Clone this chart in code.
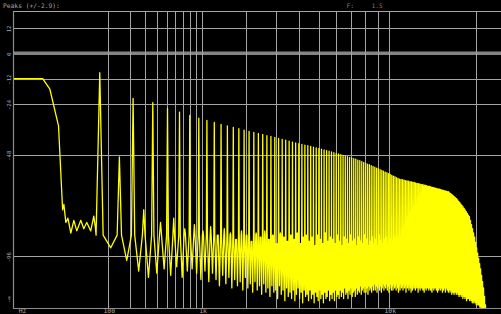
<!DOCTYPE html>
<html>
<head>
<meta charset="utf-8">
<script src="https://cdn.jsdelivr.net/npm/d3@7"></script>
<style>
  html, body { margin: 0; padding: 0; background: #000; }
  svg { display: block; }
</style>
</head>
<body>
<svg id="spectrum"></svg>
<script>
// header texts
const headerLabel = 'Peaks (+/-2.9):';
const filterLabel = 'F:';
const filterValue = '1.5';

// level axis (dB)
const dbGrid = [12, -12, -24, -48, -96];
const dbTickValues = [12, 0, -12, -24, -48, -96, -116];
const dbTickLabels = ['12', '0', '-12', '-24', '-48', '-96', '-\u221e'];

// frequency axis (Hz)
const hzGrid = [100, 200, 300, 400, 500, 600, 700, 800, 900, 1000,
  2000, 3000, 4000, 5000, 6000, 7000, 8000, 9000, 10000, 20000];
const hzTickValues = [100, 1000, 10000];
const hzTickLabels = ['100', '1k', '10k'];
const hzUnitLabel = 'Hz';

// spectrum below the first harmonic
const lowEndHz = [0, 1.9, 4, 8.2, 11, 12, 13.6, 15.5, 18.5, 22, 25.8, 31.7, 36.7, 42.2, 50.4, 57.3, 61];
const lowEndDb = [-12, -12, -17, -34.3, -74, -71.5, -80, -78, -85, -79, -84, -79, -83, -80, -84, -77, -82];

// level where a harmonic's main lobe meets the noise floor
const lobeFloorDb = -86;

// harmonics, n = 1..296
const harmonicHz = [
  73, 145, 218, 290, 363, 435, 508, 580, 653, 725,
  798, 870, 943, 1015, 1088, 1160, 1233, 1305, 1378, 1450,
  1523, 1595, 1668, 1740, 1813, 1885, 1958, 2030, 2103, 2175,
  2248, 2320, 2393, 2465, 2538, 2610, 2683, 2755, 2828, 2900,
  2973, 3045, 3118, 3190, 3263, 3335, 3408, 3480, 3553, 3625,
  3698, 3770, 3843, 3915, 3988, 4060, 4133, 4205, 4278, 4350,
  4423, 4495, 4568, 4640, 4713, 4785, 4858, 4930, 5003, 5075,
  5148, 5220, 5293, 5365, 5438, 5510, 5583, 5655, 5728, 5800,
  5873, 5945, 6018, 6090, 6163, 6235, 6308, 6380, 6453, 6525,
  6598, 6670, 6743, 6815, 6888, 6960, 7033, 7105, 7178, 7250,
  7323, 7395, 7468, 7540, 7613, 7685, 7758, 7830, 7903, 7975,
  8048, 8120, 8193, 8265, 8338, 8410, 8483, 8555, 8628, 8700,
  8773, 8845, 8918, 8990, 9063, 9135, 9208, 9280, 9353, 9425,
  9498, 9570, 9643, 9715, 9788, 9860, 9933, 10005, 10078, 10150,
  10223, 10295, 10368, 10440, 10513, 10585, 10658, 10730, 10803, 10875,
  10948, 11020, 11093, 11165, 11238, 11310, 11383, 11455, 11528, 11600,
  11673, 11745, 11818, 11890, 11963, 12035, 12108, 12180, 12253, 12325,
  12398, 12470, 12543, 12615, 12688, 12760, 12833, 12905, 12978, 13050,
  13123, 13195, 13268, 13340, 13413, 13485, 13558, 13630, 13703, 13775,
  13848, 13920, 13993, 14065, 14138, 14210, 14283, 14355, 14428, 14500,
  14573, 14645, 14718, 14790, 14863, 14935, 15008, 15080, 15153, 15225,
  15298, 15370, 15443, 15515, 15588, 15660, 15733, 15805, 15878, 15950,
  16023, 16095, 16168, 16240, 16313, 16385, 16458, 16530, 16603, 16675,
  16748, 16820, 16893, 16965, 17038, 17110, 17183, 17255, 17328, 17400,
  17473, 17545, 17618, 17690, 17763, 17835, 17908, 17980, 18053, 18125,
  18198, 18270, 18343, 18415, 18488, 18560, 18633, 18705, 18778, 18850,
  18923, 18995, 19068, 19140, 19213, 19285, 19358, 19430, 19503, 19575,
  19648, 19720, 19793, 19865, 19938, 20010, 20083, 20155, 20228, 20300,
  20373, 20445, 20518, 20590, 20663, 20735, 20808, 20880, 20953, 21025,
  21098, 21170, 21243, 21315, 21388, 21460
];

// peak level of the odd harmonics (1, 3, 5 ... 295)
const oddPeakDb = [
  -9.2, -21.3, -23.4, -26.0, -27.9, -29.4, -30.7, -31.8, -32.7, -33.6,
  -34.3, -35.0, -35.7, -36.3, -36.9, -37.4, -37.9, -38.4, -38.9, -39.3,
  -39.8, -40.2, -40.7, -41.1, -41.6, -42.0, -42.4, -42.7, -43.1, -43.4,
  -43.7, -44.0, -44.4, -44.7, -45.0, -45.3, -45.7, -46.0, -46.3, -46.6,
  -47.0, -47.3, -47.6, -47.9, -48.3, -48.6, -48.9, -49.2, -49.5, -49.8,
  -50.1, -50.5, -50.8, -51.2, -51.6, -52.0, -52.4, -52.7, -53.1, -53.5,
  -53.9, -54.3, -54.6, -55.0, -55.4, -55.8, -56.2, -56.5, -56.9, -57.3,
  -57.7, -58.1, -58.4, -58.8, -59.2, -59.5, -59.7, -59.8, -60.0, -60.2,
  -60.3, -60.5, -60.7, -60.8, -61.0, -61.1, -61.3, -61.5, -61.6, -61.8,
  -62.0, -62.1, -62.3, -62.4, -62.6, -62.8, -62.9, -63.1, -63.3, -63.4,
  -63.6, -63.8, -63.9, -64.1, -64.2, -64.4, -64.6, -64.7, -64.9, -65.1,
  -65.2, -65.4, -65.5, -66.0, -66.4, -66.9, -67.3, -67.8, -68.3, -68.8,
  -69.4, -70.0, -70.6, -71.3, -72.0, -72.7, -73.4, -74.1, -74.9, -75.7,
  -76.5, -77.3, -79, -81, -83, -85, -87, -89.5, -92, -94.5,
  -97, -99.5, -102, -105, -108, -111, -115, -119
];

// peak level of the even harmonics (2, 4, 6 ... 296)
const evenPeakDb = [
  -49, -74, -80, -78, -83, -81, -84, -82, -86, -83,
  -85, -88, -84, -86, -89, -85, -87, -84, -88, -86,
  -90, -85, -87, -89, -86, -88, -85, -90, -87, -86,
  -89, -87, -91, -86, -88, -90, -85, -89, -87, -88,
  -90, -86, -89, -91, -87, -88, -90, -86, -89, -88,
  -91, -87, -89, -90, -86, -88, -91, -89, -87, -90,
  -88, -91, -86, -89, -90, -88, -87, -91, -89, -88,
  -90, -87, -89, -91, -88, -90, -86, -89, -88, -91,
  -89, -87, -90, -88, -91, -89, -87, -90, -88, -89,
  -91, -88, -90, -87, -89, -91, -88, -90, -89, -87,
  -90, -88, -91, -89, -88, -90, -87, -89, -91, -88,
  -90, -89, -88, -91, -89, -90, -88, -90, -91, -89,
  -90, -91, -89, -92, -90, -91, -93, -92, -94, -93,
  -95, -96, -98, -100, -102, -104, -106, -108, -110, -112,
  -114, -116, -118, -120, -121, -122, -122, -122
];

// floor level in the gap after each harmonic
const troughDb = [
  -92, -98, -103, -106, -104, -102, -105, -101, -106, -103,
  -102, -104, -107, -103, -108, -104, -107, -110, -105, -109,
  -106, -111, -107, -110, -108, -112, -106, -111, -109, -113,
  -108, -112, -110, -114, -109, -113, -111, -115, -110, -113,
  -112, -116, -110, -114, -112, -117, -111, -115, -113, -116,
  -112, -117, -114, -111, -116, -113, -118, -112, -115, -114,
  -117, -112, -116, -114, -118, -113, -115, -117, -112, -116,
  -114, -118, -113, -116, -115, -112, -117, -114, -116, -113,
  -117, -112, -115, -114, -116, -112, -115, -113, -116, -111,
  -114, -113, -116, -112, -114, -111, -115, -113, -112, -115,
  -111, -114, -112, -113, -110, -114, -112, -111, -113, -110,
  -113, -111, -114, -110, -112, -111, -113, -110, -112, -109,
  -112, -110, -113, -111, -109, -112, -110, -113, -111, -109,
  -112, -110, -111, -109, -112, -110, -113, -111, -109, -112,
  -110, -112, -109, -111, -110, -112, -109, -111, -113, -110,
  -112, -109, -111, -110, -112, -109, -111, -110, -113, -109,
  -111, -110, -112, -109, -111, -113, -110, -112, -109, -111,
  -110, -112, -109, -111, -110, -113, -111, -109, -112, -110,
  -111, -109, -112, -110, -113, -111, -110, -112, -109, -111,
  -110, -112, -111, -109, -112, -110, -113, -111, -110, -112,
  -109, -111, -110, -112, -111, -113, -110, -112, -111, -109,
  -112, -110, -111, -113, -110, -112, -111, -110, -113, -111,
  -110, -112, -111, -113, -112, -110, -113, -111, -112, -114,
  -111, -113, -112, -114, -111, -113, -112, -114, -113, -112,
  -114, -112, -115, -113, -114, -112, -115, -113, -114, -116,
  -113, -115, -114, -116, -114, -115, -117, -115, -116, -114,
  -116, -115, -117, -116, -115, -117, -116, -118, -116, -117,
  -118, -117, -116, -118, -117, -119, -118, -117, -119, -118,
  -119, -118, -120, -119, -120, -121, -120, -121, -122, -121,
  -122, -122, -123, -122, -123, -123
];
const tailHz = 24000;
const tailDb = -125;

createSpectrumChart('spectrum', {
  width: 501,
  height: 314,
  frame: { left: 13, top: 11.5, bottom: 308, right: 501 },
  lobeHz: 10,
  gridColor: '#a4a4a4',
  zeroColor: '#848484',
  axisColor: '#8c8c8c',
  textColor: '#a6a6a6',
  filterColor: '#87821f',
  lineColor: '#ffff00'
});

function createSpectrumChart(id, config) {
  setSvgSize(config, id);
  setScalesToConfig(config);
  setSpectrumPointsToConfig(config);
  drawGrid(config);
  drawSpectrum(config);
  drawFrame(config);
  drawLevelLabels(config);
  drawFrequencyLabels(config);
  drawHeader(config);
}

function setSvgSize(config, id) {
  config.svg = d3
    .select(`#${id}`)
    .attr('width', config.width)
    .attr('height', config.height)
    .style('background', '#000');
}

function setScalesToConfig(config) {
  config.x = d3
    .scalePow()
    .exponent(0.3)
    .domain([0, 24000])
    .range([14, 502]);
  config.y = d3
    .scaleLinear()
    .domain([20, -120])
    .range([11, 307]);
}

// each harmonic: narrow main lobe, then a dip half way to the next one
function setSpectrumPointsToConfig(config) {
  const points = lowEndHz.map((hz, i) => [hz, lowEndDb[i]]);
  harmonicHz.forEach((hz, i) => {
    const peak = i % 2 === 0 ? oddPeakDb[i / 2] : evenPeakDb[(i - 1) / 2];
    const shoulder = Math.min(lobeFloorDb, peak);
    const next = i + 1 < harmonicHz.length ? harmonicHz[i + 1] : tailHz;
    points.push([hz - config.lobeHz, shoulder]);
    points.push([hz, peak]);
    points.push([hz + config.lobeHz, shoulder]);
    points.push([(hz + next) / 2, troughDb[i]]);
  });
  points.push([tailHz, tailDb]);
  config.points = points;
}

function drawGrid(config) {
  const f = config.frame;
  const grid = config.svg.append('g').attr('class', 'grid');

  grid
    .selectAll('.hline')
    .data(dbGrid)
    .enter()
    .append('line')
    .attr('x1', f.left)
    .attr('x2', f.right)
    .attr('y1', d => Math.round(config.y(d)) + 0.5)
    .attr('y2', d => Math.round(config.y(d)) + 0.5)
    .style('stroke', config.gridColor)
    .style('stroke-width', 1);

  grid
    .append('line')
    .attr('x1', f.left)
    .attr('x2', f.right)
    .attr('y1', config.y(0))
    .attr('y2', config.y(0))
    .style('stroke', config.zeroColor)
    .style('stroke-width', 3.5);

  grid
    .selectAll('.vline')
    .data(hzGrid)
    .enter()
    .append('line')
    .attr('x1', d => Math.round(config.x(d)) + 0.5)
    .attr('x2', d => Math.round(config.x(d)) + 0.5)
    .attr('y1', f.top)
    .attr('y2', f.bottom)
    .style('stroke', config.gridColor)
    .style('stroke-width', 1);
}

function drawSpectrum(config) {
  const f = config.frame;
  config.svg
    .append('clipPath')
    .attr('id', 'plot-clip')
    .append('rect')
    .attr('x', f.left)
    .attr('y', f.top)
    .attr('width', f.right - f.left)
    .attr('height', f.bottom - f.top);

  const line = d3
    .line()
    .x(d => config.x(d[0]))
    .y(d => config.y(d[1]));

  config.svg
    .append('path')
    .attr('clip-path', 'url(#plot-clip)')
    .attr('d', line(config.points))
    .style('fill', 'none')
    .style('stroke', config.lineColor)
    .style('stroke-width', 1.3)
    .style('stroke-linejoin', 'round');
}

function drawFrame(config) {
  const f = config.frame;
  const frame = config.svg.append('g').attr('class', 'frame');
  frame
    .append('line')
    .attr('x1', f.left).attr('x2', f.right)
    .attr('y1', f.top).attr('y2', f.top)
    .style('stroke', config.gridColor);
  frame
    .append('line')
    .attr('x1', f.left + 0.5).attr('x2', f.left + 0.5)
    .attr('y1', f.top).attr('y2', f.bottom)
    .style('stroke', config.axisColor)
    .style('stroke-width', 1.2);
  frame
    .append('line')
    .attr('x1', f.left).attr('x2', f.right)
    .attr('y1', f.bottom + 0.5).attr('y2', f.bottom + 0.5)
    .style('stroke', config.axisColor)
    .style('stroke-width', 1.2);
}

function drawLevelLabels(config) {
  config.svg
    .append('g')
    .selectAll('text')
    .data(dbTickValues)
    .enter()
    .append('text')
    .attr('transform', d => `translate(9, ${config.y(d) + 1}) rotate(-90)`)
    .attr('text-anchor', 'middle')
    .attr('dominant-baseline', 'central')
    .style('font-family', 'DejaVu Sans Mono, monospace')
    .style('font-size', '5.6px')
    .style('fill', config.textColor)
    .text((d, i) => dbTickLabels[i]);
}

function drawFrequencyLabels(config) {
  const labels = config.svg
    .append('g')
    .style('font-family', 'DejaVu Sans Mono, monospace')
    .style('font-size', '6.4px')
    .style('fill', config.textColor);
  labels
    .selectAll('text')
    .data(hzTickValues)
    .enter()
    .append('text')
    .attr('x', d => config.x(d) + 1)
    .attr('y', 313)
    .attr('text-anchor', 'middle')
    .text((d, i) => hzTickLabels[i]);

  labels
    .append('text')
    .attr('x', 22.5)
    .attr('y', 313)
    .attr('text-anchor', 'middle')
    .text(hzUnitLabel);
}

function drawHeader(config) {
  const header = config.svg
    .append('g')
    .style('font-family', 'DejaVu Sans Mono, monospace')
    .style('font-size', '6.3px');
  header
    .append('text')
    .attr('x', 3)
    .attr('y', 7.5)
    .style('fill', config.textColor)
    .text(headerLabel);
  header
    .append('text')
    .attr('x', 346.5)
    .attr('y', 7.5)
    .style('fill', config.filterColor)
    .text(filterLabel);
  header
    .append('text')
    .attr('x', 371.5)
    .attr('y', 7.5)
    .style('fill', config.filterColor)
    .text(filterValue);
}
</script>
</body>
</html>
